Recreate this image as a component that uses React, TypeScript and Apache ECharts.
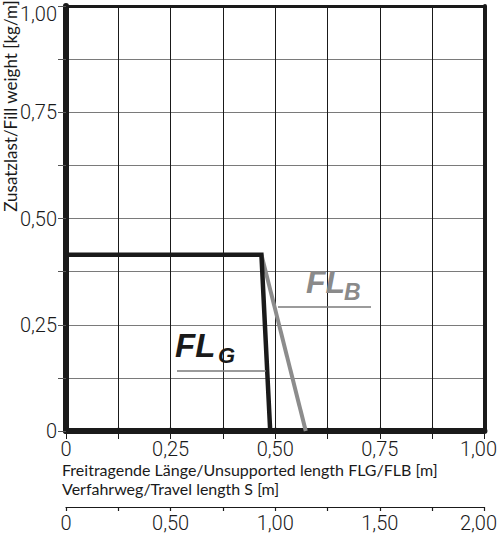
import React, { useEffect, useRef } from "react";
import * as echarts from "echarts";

// Length axis (FLG/FLB) in m, fill weight in kg/m
const flgX = [0, 0.467, 0.488];
const flgY = [0.415, 0.415, 0];
const flbX = [0.467, 0.573];
const flbY = [0.415, 0];

const lengthTicks = [0, 0.25, 0.5, 0.75, 1.0];
const travelTicks = [0, 0.5, 1.0, 1.5, 2.0];
const weightTicks = [0, 0.25, 0.5, 0.75, 1.0];

const yName = "Zusatzlast/Fill weight [kg/m]";
const xName1 = "Freitragende Länge/Unsupported length FLG/FLB [m]";
const xName2 = "Verfahrweg/Travel length S [m]";

const near = (v: number, arr: number[]) => arr.some((a) => Math.abs(a - v) < 1e-6);
const fmt = (v: number) => (v === 0 ? "0" : v.toFixed(2).replace(".", ","));

const NUM_FONT = "Roboto";
const NAME_FONT = "Lato";

export default function App() {
  const ref = useRef<HTMLDivElement>(null);
  useEffect(() => {
    if (!ref.current) return;
    const chart = echarts.init(ref.current, null, { renderer: "svg" });
    const numLabel = {
      fontFamily: NUM_FONT,
      fontWeight: 300,
      fontSize: 20,
      color: "#1a1a1a",
    };
    chart.setOption({
      animation: false,
      grid: { left: 66, right: 11, top: 6, bottom: 108, containLabel: false },
      xAxis: [
        {
          type: "value",
          min: 0,
          max: 1,
          interval: 0.125,
          position: "bottom",
          axisLine: { show: true, onZero: false, lineStyle: { color: "#1a1a1a", width: 6 } },
          axisTick: { show: true, length: 8, lineStyle: { color: "#1a1a1a", width: 1 } },
          splitLine: { show: true, lineStyle: { color: "#1a1a1a", width: 1 } },
          axisLabel: {
            ...numLabel,
            margin: 8,
            showMaxLabel: true,
            formatter: (v: number) =>
              near(v, lengthTicks) ? (v === 1 ? "{r|" + fmt(v) + "}" : fmt(v)) : "",
            rich: { r: { ...numLabel, padding: [0, 12, 0, 0] } },
          },
        },
        {
          type: "value",
          min: 0,
          max: 2,
          interval: 0.25,
          position: "bottom",
          offset: 76,
          axisLine: { show: true, onZero: false, lineStyle: { color: "#1a1a1a", width: 1.2 } },
          axisTick: { show: true, length: 4, lineStyle: { color: "#1a1a1a", width: 1.2 } },
          splitLine: { show: false },
          axisLabel: {
            ...numLabel,
            margin: 6,
            showMaxLabel: true,
            formatter: (v: number) =>
              near(v, travelTicks) ? (v === 2 ? "{r|" + fmt(v) + "}" : fmt(v)) : "",
            rich: { r: { ...numLabel, padding: [0, 12, 0, 0] } },
          },
        },
        {
          type: "value",
          min: 0,
          max: 2,
          interval: 0.25,
          position: "bottom",
          offset: 76,
          axisLine: { show: false },
          axisTick: { show: true, inside: true, length: 4, lineStyle: { color: "#1a1a1a", width: 1.2 } },
          splitLine: { show: false },
          axisLabel: { show: false },
        },
        {
          type: "value",
          min: 0,
          max: 1,
          position: "top",
          axisLine: { show: true, onZero: false, lineStyle: { color: "#1a1a1a", width: 3 } },
          axisTick: { show: false },
          splitLine: { show: false },
          axisLabel: { show: false },
        },
      ],
      yAxis: [
        {
          type: "value",
          min: 0,
          max: 1,
          interval: 0.125,
          position: "left",
          axisLine: { show: true, onZero: false, lineStyle: { color: "#1a1a1a", width: 6 } },
          axisTick: { show: true, length: 8, lineStyle: { color: "#555", width: 1 } },
          splitLine: { show: true, lineStyle: { color: "#7a7a7a", width: 1.2 } },
          axisLabel: {
            ...numLabel,
            margin: 9,
            showMaxLabel: true,
            formatter: (v: number) =>
              near(v, weightTicks) ? (v === 1 ? "{t|" + fmt(v) + "}" : fmt(v)) : "",
            rich: { t: { ...numLabel, padding: [16, 0, 0, 0] } },
          },
        },
        {
          type: "value",
          min: 0,
          max: 1,
          position: "right",
          axisLine: { show: true, onZero: false, lineStyle: { color: "#1a1a1a", width: 4 } },
          axisTick: { show: false },
          splitLine: { show: false },
          axisLabel: { show: false },
        },
      ],
      series: [
        {
          name: "FLB",
          type: "line",
          xAxisIndex: 0,
          yAxisIndex: 0,
          data: flbX.map((x, i) => [x, flbY[i]]),
          symbol: "none",
          lineStyle: { color: "#8c8c8c", width: 4 },
          z: 3,
        },
        {
          name: "FLG",
          type: "line",
          xAxisIndex: 0,
          yAxisIndex: 0,
          data: flgX.map((x, i) => [x, flgY[i]]),
          symbol: "none",
          lineStyle: { color: "#1a1a1a", width: 4.5, join: "miter" },
          z: 4,
        },
      ],
      graphic: [
        {
          type: "text",
          x: 10,
          y: 106,
          rotation: Math.PI / 2,
          style: {
            text: yName,
            fontFamily: NAME_FONT,
            fontSize: 17,
            fill: "#1a1a1a",
            align: "center",
            verticalAlign: "middle",
          },
        },
        {
          type: "text",
          x: 62,
          y: 469.5,
          style: {
            text: xName1,
            fontFamily: NAME_FONT,
            fontSize: 16,
            fill: "#1a1a1a",
            align: "left",
            verticalAlign: "middle",
          },
        },
        {
          type: "text",
          x: 62,
          y: 488,
          style: {
            text: xName2,
            fontFamily: NAME_FONT,
            fontSize: 16,
            fill: "#1a1a1a",
            align: "left",
            verticalAlign: "middle",
          },
        },
        {
          type: "text",
          x: 175,
          y: 345,
          z: 10,
          style: {
            text: "FL",
            fontFamily: "Liberation Sans",
            fontStyle: "italic",
            fontWeight: "bold",
            fontSize: 33,
            fill: "#1a1a1a",
            align: "left",
            verticalAlign: "middle",
          },
        },
        {
          type: "text",
          x: 218,
          y: 355,
          z: 10,
          style: {
            text: "G",
            fontFamily: "Liberation Sans",
            fontStyle: "italic",
            fontWeight: "bold",
            fontSize: 22,
            fill: "#1a1a1a",
            align: "left",
            verticalAlign: "middle",
          },
        },
        {
          type: "line",
          z: 10,
          shape: { x1: 177, y1: 371, x2: 266, y2: 371 },
          style: { stroke: "#7a7a7a", lineWidth: 1.5 },
        },
        {
          type: "text",
          x: 306,
          y: 282,
          z: 10,
          style: {
            text: "FL",
            fontFamily: "Liberation Sans",
            fontStyle: "italic",
            fontWeight: "bold",
            fontSize: 32,
            fill: "#8a8a8a",
            align: "left",
            verticalAlign: "middle",
          },
        },
        {
          type: "text",
          x: 344,
          y: 292,
          z: 10,
          style: {
            text: "B",
            fontFamily: "Liberation Sans",
            fontStyle: "italic",
            fontWeight: "bold",
            fontSize: 23,
            fill: "#8a8a8a",
            align: "left",
            verticalAlign: "middle",
          },
        },
        {
          type: "line",
          z: 10,
          shape: { x1: 278, y1: 307, x2: 371, y2: 307 },
          style: { stroke: "#7a7a7a", lineWidth: 1.5 },
        },
      ],
    });
    return () => chart.dispose();
  }, []);
  return <div ref={ref} style={{ width: 500, height: 539, position: "absolute", left: 0, top: 0 }} />;
}
